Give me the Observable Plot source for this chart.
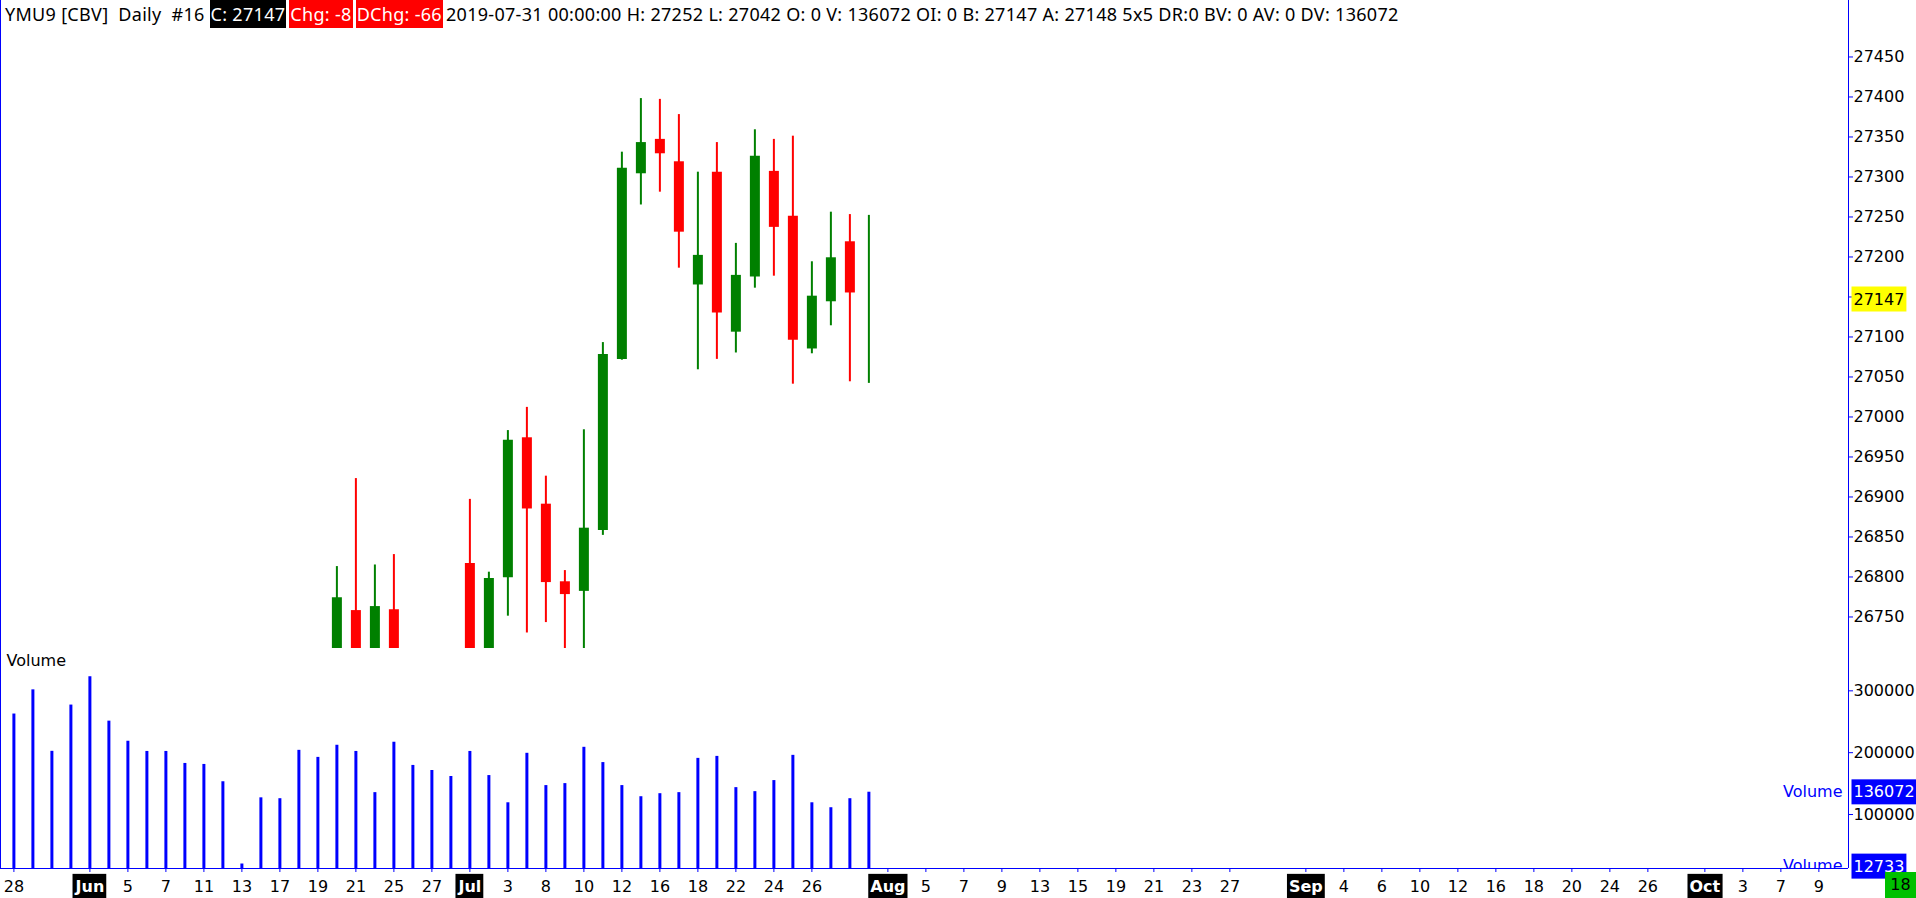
<!DOCTYPE html>
<html><head><meta charset="utf-8">
<script src="https://cdn.jsdelivr.net/npm/d3@7"></script>
<script src="https://cdn.jsdelivr.net/npm/@observablehq/plot@0.6"></script>
<style>
html,body{margin:0;padding:0;background:#fff;overflow:hidden;}
#root{position:relative;width:1916px;height:898px;}
#header{position:absolute;left:0;top:0;height:28px;font-family:"Noto Sans";font-size:18px;letter-spacing:0.3px;line-height:28px;white-space:pre;color:#000;z-index:2;padding-left:5px}
.box{display:inline-block;color:#fff;padding:0 1px;margin-right:3px;height:28px}
#price{position:absolute;left:0;top:0}
#volume{position:absolute;left:0;top:648px}
#leftline{position:absolute;left:0;top:0;width:1px;height:868px;background:#0000ff;z-index:3}
#corner{position:absolute;left:1885px;top:872px;width:31px;height:26px;background:#00c000;color:#000;font-family:"DejaVu Sans";font-size:16px;line-height:26px;text-align:center}
</style></head>
<body><div id="root"><div id="leftline"></div><div id="header"></div><div id="price"></div><div id="volume"></div><div id="corner">18</div></div>
<script>
// ---- data ----
const candleDates = ["2019-06-20","2019-06-21","2019-06-24","2019-06-25","2019-07-01","2019-07-02","2019-07-03","2019-07-05","2019-07-08","2019-07-09","2019-07-10","2019-07-11","2019-07-12","2019-07-15","2019-07-16","2019-07-17","2019-07-18","2019-07-19","2019-07-22","2019-07-23","2019-07-24","2019-07-25","2019-07-26","2019-07-29","2019-07-30","2019-07-31"];
const opens  = [26560,26758,26690,26759,26817,26690,26799,26974,26891,26794,26782,26858,27072,27304,27347,27319,27165,27306,27106,27175,27307,27251,27085,27144,27219,0];
const highs  = [26813,26923,26815,26828,26897,26806,26983,27012,26926,26808,26984,27093,27331,27398,27397,27378,27306,27343,27217,27359,27347,27351,27194,27256,27253,27252];
const lows   = [26520,26660,26670,26530,26620,26650,26751,26730,26743,26690,26700,26852,27071,27265,27281,27186,27059,27072,27080,27161,27176,27041,27079,27114,27044,27042];
const closes = [26774,26690,26763,26560,26680,26798,26971,26885,26793,26778,26861,27078,27311,27343,27329,27231,27202,27130,27177,27326,27237,27096,27151,27199,27155,27147];

const volumeDates = ["2019-05-28","2019-05-29","2019-05-30","2019-05-31","2019-06-03","2019-06-04","2019-06-05","2019-06-06","2019-06-07","2019-06-10","2019-06-11","2019-06-12","2019-06-13","2019-06-14","2019-06-17","2019-06-18","2019-06-19","2019-06-20","2019-06-21","2019-06-24","2019-06-25","2019-06-26","2019-06-27","2019-06-28","2019-07-01","2019-07-02","2019-07-03","2019-07-05","2019-07-08","2019-07-09","2019-07-10","2019-07-11","2019-07-12","2019-07-15","2019-07-16","2019-07-17","2019-07-18","2019-07-19","2019-07-22","2019-07-23","2019-07-24","2019-07-25","2019-07-26","2019-07-29","2019-07-30","2019-07-31"];
const volumes = [262500,301600,202200,277000,322800,251000,218500,202000,202000,182600,181000,153000,20000,127000,125600,203800,192400,212000,202000,135400,216900,179400,171200,161500,202000,163000,119000,199000,146800,150000,208700,184000,146800,128800,133700,135400,190800,194000,143500,137000,154900,195700,119000,111000,125600,136072];

const tickDates  = ["2019-05-28","2019-06-03","2019-06-05","2019-06-07","2019-06-11","2019-06-13","2019-06-17","2019-06-19","2019-06-21","2019-06-25","2019-06-27","2019-07-01","2019-07-03","2019-07-08","2019-07-10","2019-07-12","2019-07-16","2019-07-18","2019-07-22","2019-07-24","2019-07-26","2019-08-01","2019-08-05","2019-08-07","2019-08-09","2019-08-13","2019-08-15","2019-08-19","2019-08-21","2019-08-23","2019-08-27","2019-09-02","2019-09-04","2019-09-06","2019-09-10","2019-09-12","2019-09-16","2019-09-18","2019-09-20","2019-09-24","2019-09-26","2019-10-01","2019-10-03","2019-10-07","2019-10-09"];
const tickLabels = ["28","Jun","5","7","11","13","17","19","21","25","27","Jul","3","8","10","12","16","18","22","24","26","Aug","5","7","9","13","15","19","21","23","27","Sep","4","6","10","12","16","18","20","24","26","Oct","3","7","9"];
const monthLabels = ["Jun","Jul","Aug","Sep","Oct"];

const priceTicks = [26750,26800,26850,26900,26950,27000,27050,27100,27150,27200,27250,27300,27350,27400,27450];
const volumeTicks = [100000,200000,300000];
const volumeMin = 12733;
const holidays = ["2019-07-04"];

// ---- session index (trading-day slots) ----
const fmt = d3.utcFormat("%Y-%m-%d");
const sessions = d3.utcDays(new Date("2019-05-28"), new Date("2019-10-12"))
  .filter(d => d.getUTCDay() % 6 !== 0).map(fmt).filter(s => !holidays.includes(s));
const pos = new Map(sessions.map((s, i) => [s, i]));

const GREEN = "#008000", RED = "#ff0000", BLUE = "#0000ff";
const xDomain = [-0.705, 96.56];
const FONT = "DejaVu Sans";

const candles = candleDates.map((d, k) => ({i: pos.get(d), o: opens[k], h: highs[k], l: lows[k], c: closes[k]}));
const colorOf = d => d.c >= d.o ? GREEN : RED;
const last = candles[candles.length - 1];
const vols = volumeDates.map((d, k) => ({i: pos.get(d), v: volumes[k]}));
const lastVol = volumes[volumes.length - 1];
const tickIdx = tickDates.map(d => pos.get(d));
const labelOf = new Map(tickIdx.map((i, k) => [i, tickLabels[k]]));

// header
document.getElementById("header").innerHTML =
  'YMU9 [CBV]  Daily  #16 <span class="box" style="background:#000">C: ' + last.c + '</span>' +
  '<span class="box" style="background:#f00">Chg: -8</span>' +
  '<span class="box" style="background:#f00">DChg: -66</span>' +
  '2019-07-31 00:00:00 H: ' + last.h + ' L: ' + last.l + ' O: 0 V: ' + lastVol + ' OI: 0 B: 27147 A: 27148 5x5 DR:0 BV: 0 AV: 0 DV: ' + lastVol;

const price = Plot.plot({
  width: 1916, height: 648, marginLeft: 0, marginRight: 68, marginTop: 0, marginBottom: 0,
  x: {type: "linear", domain: xDomain, axis: null},
  y: {domain: [26710.6, 27520.6], axis: null},
  color: {type: "identity"},
  style: {background: "transparent", fontFamily: FONT, fontSize: "16px", overflow: "visible"},
  marks: [
    Plot.ruleX(candles, {x: "i", y1: "l", y2: "h", stroke: colorOf, strokeWidth: 2, clip: true}),
    Plot.ruleX(candles.filter(d => d.o > 0), {x: "i", y1: "o", y2: "c", stroke: colorOf, strokeWidth: 10, clip: true}),
    Plot.ruleX([xDomain[1]], {stroke: BLUE}),
    Plot.axisY(priceTicks, {anchor: "right", label: null, tickSize: 4, tickPadding: 1, stroke: BLUE, fill: "black", fontSize: 16, tickFormat: d => String(d)}),
    Plot.text([last], {x: xDomain[1], y: "c", text: d => String(d.c), textAnchor: "start", dx: 5, fill: "black", fontSize: 16, className: "box-yellow"})
  ]
});
document.getElementById("price").appendChild(price);

const volume = Plot.plot({
  width: 1916, height: 250, marginLeft: 0, marginRight: 68, marginTop: 0, marginBottom: 30,
  x: {type: "linear", domain: xDomain, axis: null},
  y: {domain: [volumeMin, 368459], axis: null},
  style: {background: "transparent", fontFamily: FONT, fontSize: "16px", overflow: "visible"},
  marks: [
    Plot.ruleX(vols, {x: "i", y1: volumeMin, y2: "v", stroke: BLUE, strokeWidth: 3}),
    Plot.ruleY([volumeMin], {stroke: BLUE}),
    Plot.ruleX([xDomain[1]], {stroke: BLUE}),
    Plot.axisY(volumeTicks, {anchor: "right", label: null, tickSize: 4, tickPadding: 1, stroke: BLUE, fill: "black", fontSize: 16, tickFormat: d => String(d)}),
    Plot.axisX(tickIdx, {anchor: "bottom", label: null, tickSize: 4, tickPadding: 8, stroke: BLUE, fill: "black", fontSize: 16, tickFormat: i => labelOf.get(i)}),
    Plot.text(["Volume"], {frameAnchor: "top-left", dx: 6, dy: 12, lineAnchor: "middle", fill: "black", fontSize: 16}),
    Plot.text([lastVol], {x: xDomain[1], y: d => d, text: () => "Volume", textAnchor: "end", dx: -6, fill: BLUE, fontSize: 16}),
    Plot.text([lastVol], {x: xDomain[1], y: d => d, text: d => String(d), textAnchor: "start", dx: 5, fill: "white", fontSize: 16, className: "box-blue"}),
    Plot.text([volumeMin], {x: xDomain[1], y: d => d, text: () => "Volume", textAnchor: "end", dx: -6, dy: -3, fill: BLUE, fontSize: 16, clip: true}),
    Plot.text([volumeMin], {x: xDomain[1], y: d => d, text: d => String(d), textAnchor: "start", dx: 5, dy: -2, fill: "white", fontSize: 16, className: "box-blue"})
  ]
});
document.getElementById("volume").appendChild(volume);

function addBox(t, fill, px, py) {
  const b = t.getBBox();
  const r = document.createElementNS("http://www.w3.org/2000/svg", "rect");
  r.setAttribute("x", b.x - px); r.setAttribute("y", b.y - py);
  r.setAttribute("width", b.width + 2 * px); r.setAttribute("height", b.height + 2 * py);
  r.setAttribute("fill", fill);
  if (t.getAttribute("transform")) r.setAttribute("transform", t.getAttribute("transform"));
  t.parentNode.insertBefore(r, t);
}
price.querySelectorAll(".box-yellow text").forEach(t => addBox(t, "#ffff00", 2, 3));
volume.querySelectorAll(".box-blue text").forEach(t => addBox(t, BLUE, 2, 3));
volume.querySelectorAll("text").forEach(t => {
  if (monthLabels.includes(t.textContent)) {
    t.setAttribute("fill", "white");
    t.setAttribute("font-weight", "bold");
    addBox(t, "black", 2, 3);
  }
});
</script>
</body></html>
